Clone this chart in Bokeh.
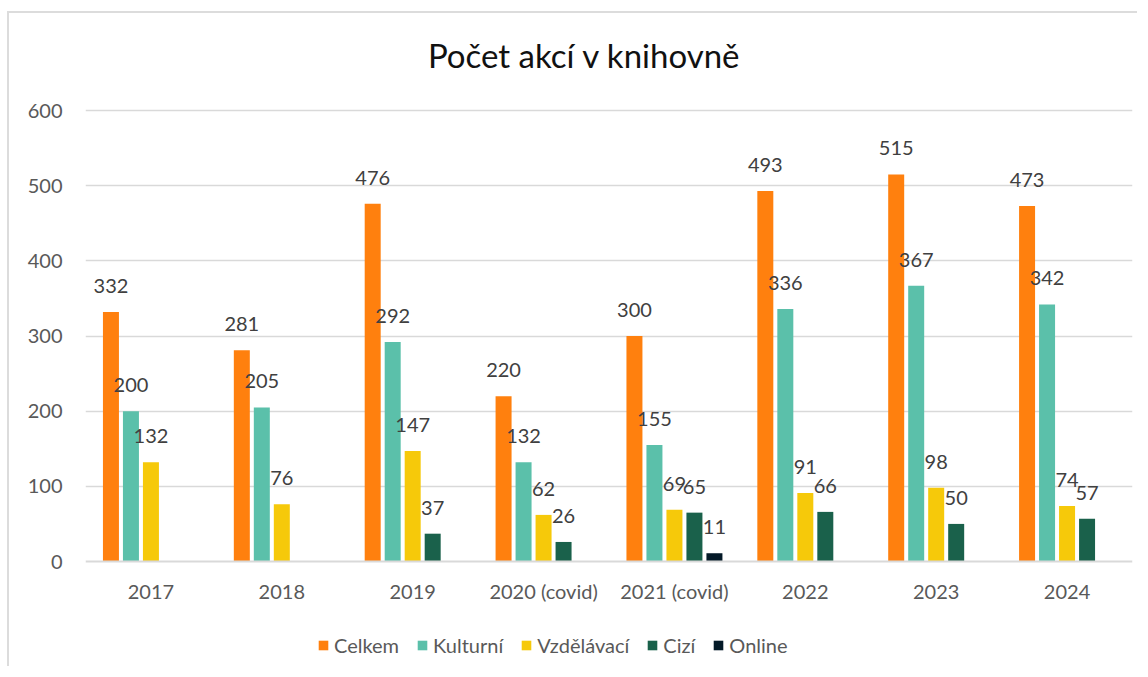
from bokeh.plotting import figure
from bokeh.models import (ColumnDataSource, FactorRange, Range1d, FixedTicker,
                          Legend, LegendItem, Label)
from bokeh.transform import dodge
from bokeh.core.properties import value
from bokeh.embed import file_html
from bokeh.resources import INLINE

years = ["2017", "2018", "2019", "2020 (covid)", "2021 (covid)", "2022", "2023", "2024"]
series_names = ["Celkem", "Kulturní", "Vzdělávací", "Cizí", "Online"]
celkem = [332, 281, 476, 220, 300, 493, 515, 473]
kulturni = [200, 205, 292, 132, 155, 336, 367, 342]
vzdelavaci = [132, 76, 147, 62, 69, 91, 98, 74]
cizi = [None, None, 37, 26, 65, 66, 50, 57]
online = [None, None, None, None, 11, None, None, None]
colors = ["#FF800E", "#5BC0AA", "#F6C90A", "#1A614B", "#041A28"]
title_text = "Počet akcí v knihovně"

FONT = "Lato"
W, H = 1130, 655
# frame covers whole canvas height; 0..600 occupies 451 px (y 561..110 on page)
PX_PER_UNIT = 451.0 / 600.0
Y_MAX = 600 + 97 / PX_PER_UNIT
Y_MIN = -107 / PX_PER_UNIT

p = figure(x_range=FactorRange(*years, range_padding=0), y_range=Range1d(Y_MIN, Y_MAX),
           width=W, height=H, output_backend="svg", toolbar_location=None,
           min_border_left=76, min_border_right=7, min_border_top=0, min_border_bottom=0,
           title=None)
p.margin = (11, 0, 0, 7)
p.styles = {"border-top": "2px solid #dcdcdc", "border-left": "2px solid #dcdcdc"}
p.outline_line_color = None
p.background_fill_color = "white"
p.border_fill_color = "white"

# axes
p.yaxis.ticker = FixedTicker(ticks=[0, 100, 200, 300, 400, 500, 600])
p.yaxis.axis_line_color = None
p.yaxis.major_tick_line_color = None
p.yaxis.minor_tick_line_color = None
p.yaxis.major_tick_out = 0
p.yaxis.major_label_standoff = 23
p.yaxis.major_label_text_font = FONT
p.yaxis.major_label_text_font_size = "20px"
p.yaxis.major_label_text_color = "#595959"

p.xaxis.fixed_location = 0
p.xaxis.axis_line_color = "#d9d9d9"
p.xaxis.axis_line_width = 2
p.xaxis.major_tick_line_color = None
p.xaxis.minor_tick_line_color = None
p.xaxis.major_tick_out = 0
p.xaxis.major_label_standoff = 17
p.xaxis.major_label_text_font = FONT
p.xaxis.major_label_text_font_size = "20px"
p.xaxis.major_label_text_color = "#595959"

p.xgrid.grid_line_color = None
p.ygrid.grid_line_color = "#d9d9d9"
p.ygrid.grid_line_width = 1.5
p.ygrid.ticker = FixedTicker(ticks=[100, 200, 300, 400, 500, 600])

slot = 20.0 / 130.9
offsets = [-2 * slot, -slot, 0.0, slot, 2 * slot]
bar_w = 16.0 / 130.9

all_series = [celkem, kulturni, vzdelavaci, cizi, online]
legend_items = []
for name, vals, col, off in zip(series_names, all_series, colors, offsets):
    xs = [y for y, v in zip(years, vals) if v is not None]
    vs = [v for v in vals if v is not None]
    src = ColumnDataSource(dict(x=xs, top=vs, lbl=[str(v) for v in vs]))
    r = p.vbar(x=dodge("x", off, range=p.x_range), top="top", width=bar_w, bottom=0,
               source=src, fill_color=col, line_color=None)
    p.text(x=dodge("x", off, range=p.x_range), y="top", text="lbl", source=src,
           text_align="center", text_baseline="alphabetic", y_offset=-26,
           text_font=value(FONT), text_font_size="20px", text_color="#404040")
    legend_items.append(LegendItem(label=name, renderers=[r]))

legend = Legend(items=legend_items, orientation="horizontal", location=(232, 11),
                glyph_width=12, glyph_height=12, label_standoff=5, spacing=17,
                padding=0, margin=0, border_line_color=None, background_fill_alpha=0,
                label_text_font=FONT, label_text_font_size="20px",
                label_text_color="#595959")
p.add_layout(legend, "center")

title = Label(x=499, y=614, x_units="screen", y_units="screen", text=title_text,
              text_align="center", text_baseline="alphabetic", text_font=FONT,
              text_font_size="33px", text_color="#111111")
p.add_layout(title)

open("out.html", "w").write(file_html(p, INLINE))
